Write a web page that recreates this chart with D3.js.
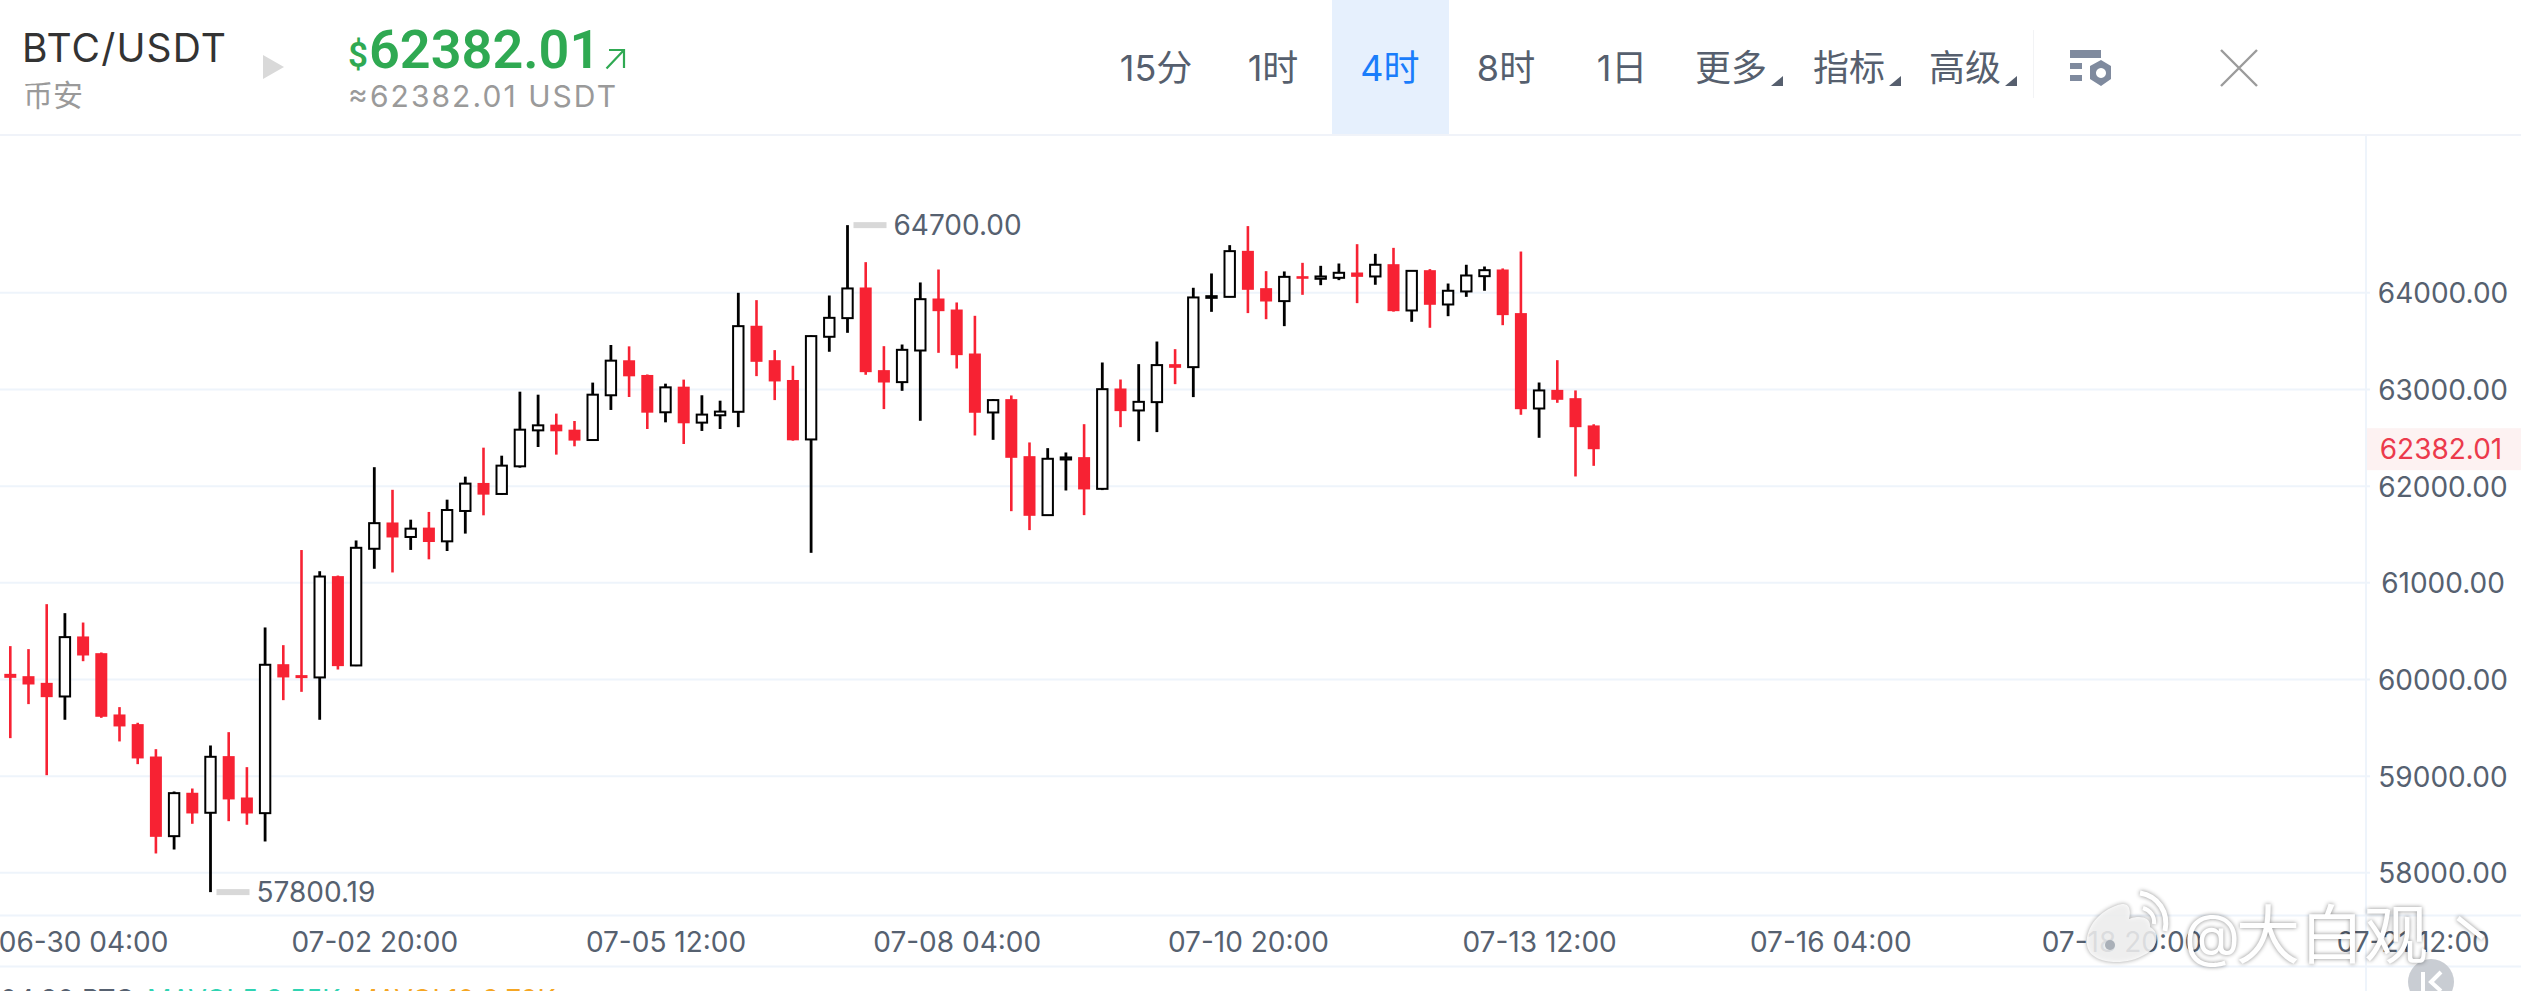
<!DOCTYPE html>
<html lang="zh">
<head>
<meta charset="utf-8">
<title>BTC/USDT</title>
<script src="https://cdn.jsdelivr.net/npm/d3@7/dist/d3.min.js"></script>
<style>
  html, body { margin: 0; padding: 0; background: #fff; overflow: hidden; }
  svg { display: block; }
  text { font-family: Inter, "Noto Sans CJK SC", sans-serif; }
  .cjk { font-family: Roboto, "Noto Sans CJK SC", sans-serif; }
</style>
</head>
<body>
<svg id="chart" width="2521" height="991"></svg>
<script>
// 4-hour BTC/USDT candles, oldest first
const opens = [60058,60034,59965,59824,60445,60272,59638,59538,59203,58379,58828,58621,59207,58779,58617,60158,60045,60021,61069,60145,61352,61624,61474,61571,61429,61743,62033,61919,62205,62577,62636,62584,62477,62940,63302,63150,62764,63029,62657,62733,62769,63659,63303,63098,62483,63545,63738,64055,63200,63076,63403,63941,63827,63372,62762,62900,62310,61700,62276,62300,61972,63010,62783,62869,63262,63231,63948,63958,64434,64048,63914,64172,64145,64155,64210,64169,64296,63817,64234,63879,64014,64172,64241,63790,62803,62996,62910,62628];
const highs = [60345,60314,60779,60686,60589,60279,59714,59552,59279,58841,58872,59317,59455,59093,60538,60355,61339,61120,61075,61438,62196,61962,61653,61733,61860,62098,62398,62315,62977,62946,62750,62674,63071,63460,63446,63155,63060,63102,62940,62884,64000,63924,63407,63245,63560,63972,64700,64317,63448,63465,64107,64241,63900,63762,62900,62938,62452,62393,62348,62641,63279,63103,63262,63496,63417,64052,64200,64493,64690,64224,64221,64310,64279,64303,64503,64403,64465,64230,64245,64096,64290,64272,64252,64427,63072,63303,62990,62640];
const lows = [59393,59745,59010,59583,60189,59603,59359,59124,58200,58241,58507,57800.19,58534,58497,58324,59786,59872,59583,60103,60138,61145,61107,61340,61243,61329,61509,61698,61909,62191,62405,62326,62412,62470,62788,62922,62591,62660,62436,62571,62591,62610,63138,62890,62470,61310,63390,63586,63152,62797,62986,62676,63379,63217,62524,62479,61741,61545,61693,61955,61700,61959,62610,62465,62559,63055,62921,63803,63955,63790,63727,63655,63979,64079,64131,63893,64083,63805,63700,63638,63758,63958,64021,63665,62738,62500,62862,62100,62210];
const closes = [60017,59948,59817,60438,60248,59614,59514,59183,58372,58824,58614,59200,58759,58614,60152,60021,60014,61065,60138,61362,61617,61469,61560,61422,61753,62026,61912,62212,62584,62629,62567,62471,62946,63298,63136,62760,63022,62650,62740,62771,63655,63286,63083,62474,63552,63741,64045,63179,63072,63410,63934,63810,63355,62759,62890,62293,61693,62283,62297,61966,63003,62776,62872,63252,63224,63952,63965,64431,64031,63910,64165,64145,64169,64207,64165,64290,63810,64227,63876,64021,64179,64234,63769,62796,62990,62893,62610,62382.01];

const priceTicks = [58000, 59000, 60000, 61000, 62000, 63000, 64000];
const timeTickLabels = ["2024-06-30T04:00Z","2024-07-02T20:00Z","2024-07-05T12:00Z","2024-07-08T04:00Z","2024-07-10T20:00Z","2024-07-13T12:00Z","2024-07-16T04:00Z","2024-07-18T20:00Z","2024-07-21T12:00Z"];
const firstCandle = "2024-06-29T12:00Z";
const candleHours = 4;
const lastPrice = 62382.01;
const highMark = 64700;
const lowMark = 57800.19;

const pairName = "BTC/USDT";
const exchangeName = "币安";
const approxQuote = "≈62382.01 USDT";
const periodLabels = ["15分", "1时", "4时", "8时", "1日", "更多", "指标", "高级"];
const periodCentres = [1156, 1273, 1390, 1506, 1622, 1731, 1849, 1965];
const activePeriod = "4时";
const periodsWithMenu = ["更多", "指标", "高级"];

const colours = { up: "#000000", down: "#f72233", grid: "#eef4fb", axisText: "#566170", green: "#2fa952" };

const svg = d3.select("#chart");

const t0 = new Date(firstCandle);
const t1 = new Date(+t0 + candleHours * 36e5);
const x = d3.scaleUtc().domain([t0, t1]).range([10.3, 28.5]);
const y = d3.scaleLinear().domain([58000, 64000]).range([872.8, 292.8]);
const candleTime = i => new Date(+t0 + i * candleHours * 36e5);

/* ---------- header bar ---------- */
const header = svg.append("g");
header.append("rect").attr("x", 1332).attr("y", 0).attr("width", 117).attr("height", 135).attr("fill", "#e6f0fd");
header.append("rect").attr("x", 0).attr("y", 134).attr("width", 2521).attr("height", 2).attr("fill", "#f0f3f9");
header.append("rect").attr("x", 2033).attr("y", 30).attr("width", 1).attr("height", 68).attr("fill", "#f2f3f5");

header.append("text").attr("x", 22).attr("y", 62).attr("font-size", 39).attr("fill", "#333333").attr("textLength", 204).text(pairName);
header.append("text").attr("class", "cjk").attr("x", 23).attr("y", 106).attr("font-size", 30).attr("fill", "#9a9a9a").text(exchangeName);
header.append("path").attr("d", "M263 55 L284 67 L263 79 Z").attr("fill", "#d9d9d9");

header.append("text").attr("class", "cjk").attr("x", 348).attr("y", 67).attr("font-size", 35).attr("font-weight", 600).attr("fill", colours.green).text("$");
header.append("text").attr("class", "cjk").attr("x", 369).attr("y", 68).attr("font-size", 54).attr("font-weight", 600).attr("fill", colours.green).text(d3.format(".2f")(lastPrice));
header.append("path").attr("d", "M606.5 68.5 L624 50 M609 50 H624 V68").attr("fill", "none").attr("stroke", colours.green).attr("stroke-width", 2.2);
header.append("text").attr("x", 348).attr("y", 107).attr("font-size", 30).attr("fill", "#9a9a9a").attr("textLength", 268).text(approxQuote);

header.selectAll("text.period").data(periodLabels).join("text")
  .attr("class", "period")
  .attr("x", (d, i) => periodCentres[i])
  .attr("y", 81)
  .attr("text-anchor", "middle")
  .attr("font-size", 36)
  .attr("fill", d => d === activePeriod ? "#1a7dfb" : "#565f6e")
  .text(d => d);

header.selectAll("path.menu").data(periodsWithMenu).join("path")
  .attr("class", "menu")
  .attr("transform", d => `translate(${periodCentres[periodLabels.indexOf(d)] + 40},0)`)
  .attr("d", "M0 86 L12 86 L12 76 Z")
  .attr("fill", "#565f6e");

// settings glyph: two bars and a small hexagon nut
const gear = header.append("g").attr("fill", "#7f8a9e");
gear.append("rect").attr("x", 2070).attr("y", 50).attr("width", 31).attr("height", 8);
gear.append("rect").attr("x", 2070).attr("y", 63).attr("width", 12).attr("height", 6);
gear.append("rect").attr("x", 2070).attr("y", 75).attr("width", 12).attr("height", 6);
gear.append("path").attr("fill-rule", "evenodd")
  .attr("d", "M2101 60 L2111 66 L2111 79 L2101 86 L2090 79 L2090 66 Z M2101 68 a5 5 0 1 0 0.01 0 Z");

header.append("path").attr("d", "M2221 50 L2257 86 M2257 50 L2221 86").attr("stroke", "#9b9b9b").attr("stroke-width", 2.4).attr("fill", "none");

/* ---------- grid and price axis ---------- */
const priceAxis = d3.axisRight(y).tickValues(priceTicks).tickSize(0).tickPadding(0).tickFormat(d3.format(".2f"));
const priceG = svg.append("g").attr("transform", "translate(2443,0)").call(priceAxis);
priceG.select(".domain").remove();
priceG.selectAll("text").attr("x", 0).attr("text-anchor", "middle").attr("font-size", 28).attr("fill", colours.axisText).attr("font-family", "Inter").attr("dy", "0.36em");

svg.append("g").selectAll("line").data(priceTicks).join("line")
  .attr("x1", 0).attr("x2", 2370)
  .attr("y1", d => y(d)).attr("y2", d => y(d))
  .attr("stroke", colours.grid).attr("stroke-width", 2);

svg.append("line").attr("x1", 2366).attr("x2", 2366).attr("y1", 136).attr("y2", 991).attr("stroke", colours.grid).attr("stroke-width", 2);
svg.append("line").attr("x1", 0).attr("x2", 2521).attr("y1", 915.5).attr("y2", 915.5).attr("stroke", colours.grid).attr("stroke-width", 2);
svg.append("line").attr("x1", 0).attr("x2", 2521).attr("y1", 966.5).attr("y2", 966.5).attr("stroke", colours.grid).attr("stroke-width", 2);

/* ---------- last-price tag ---------- */
svg.append("rect").attr("x", 2367).attr("y", y(lastPrice) - 21).attr("width", 154).attr("height", 42).attr("fill", "#fdf2f2");
svg.append("text").attr("x", 2441).attr("y", y(lastPrice)).attr("dy", "0.36em").attr("text-anchor", "middle")
  .attr("font-size", 28).attr("fill", "#ec3a4c").text(d3.format(".2f")(lastPrice));

/* ---------- time axis ---------- */
const timeAxis = d3.axisBottom(x).tickValues(timeTickLabels.map(d => new Date(d))).tickSize(0).tickPadding(0).tickFormat(d3.utcFormat("%m-%d %H:%M"));
const timeG = svg.append("g").attr("transform", "translate(0,941.5)").call(timeAxis);
timeG.select(".domain").remove();
timeG.selectAll("text").attr("y", 0).attr("dy", "0.36em").attr("font-size", 28).attr("fill", colours.axisText).attr("font-family", "Inter");

/* ---------- candles ---------- */
const candles = d3.range(opens.length).map(i => ({
  time: candleTime(i), open: opens[i], high: highs[i], low: lows[i], close: closes[i], rising: closes[i] >= opens[i]
}));

const candleG = svg.append("g").selectAll("g").data(candles).join("g");
candleG.append("line")
  .attr("x1", d => x(d.time)).attr("x2", d => x(d.time))
  .attr("y1", d => y(d.high)).attr("y2", d => y(d.low))
  .attr("stroke", d => d.rising ? colours.up : colours.down)
  .attr("stroke-width", d => d.rising ? 2.8 : 2.6);
candleG.append("rect")
  .attr("x", d => x(d.time) - (d.rising ? 5.2 : 6))
  .attr("width", d => d.rising ? 10.4 : 12)
  .attr("y", d => y(Math.max(d.open, d.close)))
  .attr("height", d => Math.abs(y(d.open) - y(d.close)))
  .attr("fill", d => d.rising ? "#ffffff" : colours.down)
  .attr("stroke", d => d.rising ? colours.up : "none")
  .attr("stroke-width", 2);

/* ---------- high and low markers ---------- */
const extremes = [highMark, lowMark].map(v => {
  const c = candles.find(k => k.high === v || k.low === v);
  return { value: v, time: c.time };
});
const markG = svg.append("g").selectAll("g").data(extremes).join("g");
markG.append("rect")
  .attr("x", d => x(d.time) + 6).attr("y", d => y(d.value) - 3)
  .attr("width", 33).attr("height", 6).attr("fill", "#d8d8d8");
markG.append("text")
  .attr("x", d => x(d.time) + 46).attr("y", d => y(d.value))
  .attr("dy", "0.36em").attr("font-size", 28).attr("fill", colours.axisText)
  .text(d => d3.format(".2f")(d.value));

/* ---------- volume legend, cut by the lower page edge ---------- */
const legend = svg.append("text").attr("x", 0).attr("y", 1009).attr("font-size", 27);
legend.append("tspan").attr("fill", colours.axisText).text("04.30 BTC ");
legend.append("tspan").attr("fill", "#2fd3b2").attr("x", 147).text("MAVOL5:3.55K");
legend.append("tspan").attr("fill", "#f5a623").attr("x", 353).text("MAVOL10:3.79K");

/* ---------- collapse button ---------- */
svg.append("circle").attr("cx", 2431).attr("cy", 982).attr("r", 23).attr("fill", "#c9cdd3");
svg.append("path").attr("d", "M2423 972 V991 M2441 972 L2431 982 L2441 991").attr("stroke", "#fff").attr("stroke-width", 4).attr("fill", "none");

/* ---------- account mark ---------- */
const mark = svg.append("g").style("filter", "drop-shadow(0 0 2px rgba(0,0,0,0.45))");
mark.append("path")
  .attr("d", "M2087 945 C2085 926 2102 908 2122 904 C2130 903 2131 911 2129 919 C2140 915 2151 917 2150 927 C2160 932 2159 948 2144 955 C2126 966 2090 965 2087 945 Z")
  .attr("fill", "#ffffff").attr("fill-opacity", 0.82);
mark.append("path").attr("d", "M2140 893 C2158 896 2169 912 2165 931").attr("fill", "none").attr("stroke", "#fff").attr("stroke-width", 5);
mark.append("path").attr("d", "M2143 908 C2150 910 2155 916 2154 924").attr("fill", "none").attr("stroke", "#fff").attr("stroke-width", 4);
mark.append("circle").attr("cx", 2110).attr("cy", 945).attr("r", 5).attr("fill", "#aab0b8");
mark.append("text").attr("x", 2184).attr("y", 956).attr("font-size", 58).attr("fill", "#ffffff").text("@");
mark.append("text").attr("class", "cjk").attr("x", 2236).attr("y", 958).attr("font-size", 64).attr("fill", "#ffffff").text("大白观");
mark.append("path").attr("d", "M2458 918 L2483 938").attr("stroke", "#fff").attr("stroke-width", 5).attr("fill", "none");
</script>
</body>
</html>
